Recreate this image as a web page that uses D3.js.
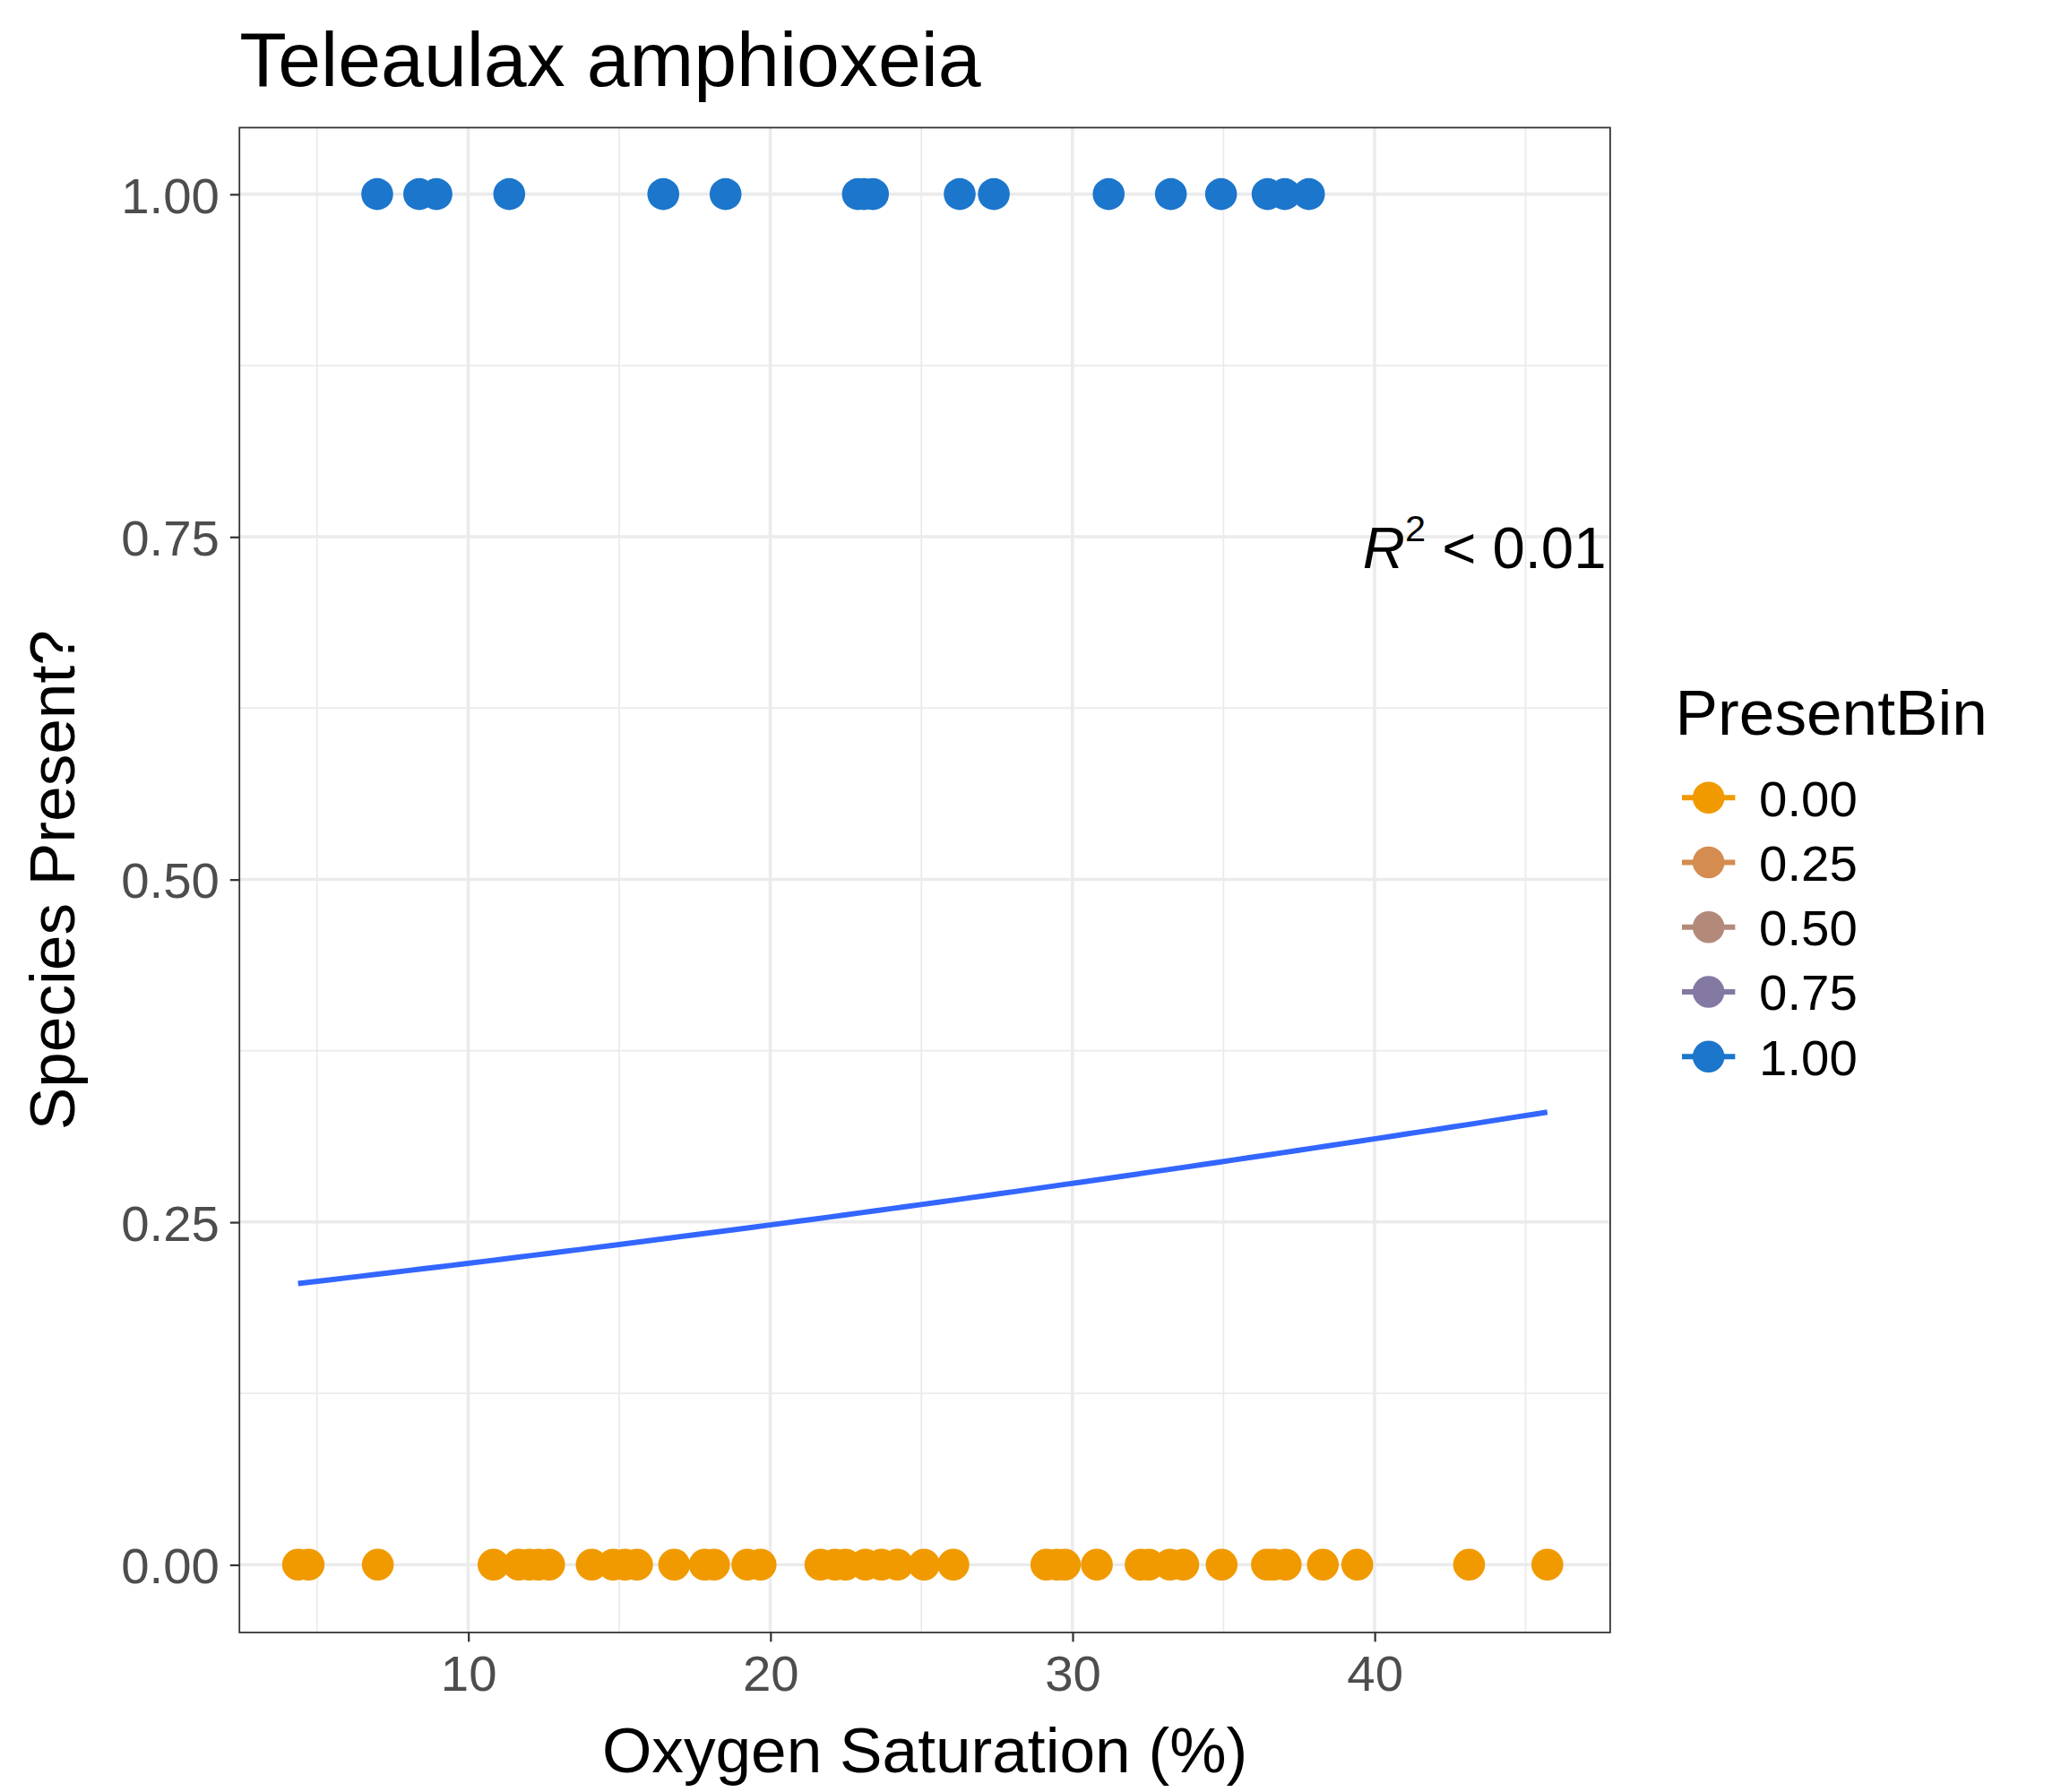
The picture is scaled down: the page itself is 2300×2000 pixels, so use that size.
<!DOCTYPE html>
<html><head><meta charset="utf-8">
<script src="https://cdn.jsdelivr.net/npm/d3@7"></script>
<style>body{margin:0;background:#fff} text{font-family:"Liberation Sans",Arial,sans-serif}</style>
</head><body>
<script>
const absentX = [4.37,4.72,7.01,10.84,11.67,12.02,12.33,12.68,14.09,14.8,15.19,15.59,16.82,17.83,18.14,19.24,19.68,21.66,22.14,22.49,23.15,23.68,24.21,25.09,26.06,29.14,29.49,29.75,30.81,32.26,32.53,33.23,33.67,34.94,36.44,36.66,37.06,38.29,39.43,43.13,45.72]
const presentX = [6.99,8.38,8.95,11.36,16.46,18.52,22.9,23.1,23.4,26.27,27.4,31.2,33.26,34.92,36.46,37.03,37.83]
const xTicks = [10,20,30,40]
const yTicks = [0,0.25,0.5,0.75,1]
const legendLevels = ["0.00","0.25","0.50","0.75","1.00"]
const legendColors = ["#F09A00","#D48C50","#B38A7A","#8479A3","#1B76CC"]
// fitted logistic curve: intercept, slope
const fitCoef = [-1.423, 0.01565]

const W = 1550, H = 1348
const m = {left:180, right:1211, top:96, bottom:1228}
const svg = d3.select("body").append("svg")
  .attr("width", 2300).attr("height", 2000)
  .attr("viewBox", `0 0 ${W} ${H}`)

const x = d3.scaleLinear().domain([2.43, 47.8]).range([m.left, m.right])
const y = d3.scaleLinear().domain([-0.0495, 1.0485]).range([m.bottom, m.top])

// minor grid
const minorX = d3.range(5, 46, 10), minorY = [0.125,0.375,0.625,0.875]
svg.selectAll(".mx").data(minorX).enter().append("line")
  .attr("x1", d => x(d)).attr("x2", d => x(d)).attr("y1", m.top).attr("y2", m.bottom)
  .attr("stroke", "#EBEBEB").attr("stroke-width", 1.2)
svg.selectAll(".my").data(minorY).enter().append("line")
  .attr("x1", m.left).attr("x2", m.right).attr("y1", d => y(d)).attr("y2", d => y(d))
  .attr("stroke", "#EBEBEB").attr("stroke-width", 1.2)
svg.selectAll(".gx").data(xTicks).enter().append("line")
  .attr("x1", d => x(d)).attr("x2", d => x(d)).attr("y1", m.top).attr("y2", m.bottom)
  .attr("stroke", "#EBEBEB").attr("stroke-width", 2.4)
svg.selectAll(".gy").data(yTicks).enter().append("line")
  .attr("x1", m.left).attr("x2", m.right).attr("y1", d => y(d)).attr("y2", d => y(d))
  .attr("stroke", "#EBEBEB").attr("stroke-width", 2.4)

// points
svg.append("g").selectAll("circle").data(absentX).enter().append("circle")
  .attr("cx", d => x(d)).attr("cy", y(0)).attr("r", 12).attr("fill", legendColors[0])
svg.append("g").selectAll("circle").data(presentX).enter().append("circle")
  .attr("cx", d => x(d)).attr("cy", y(1)).attr("r", 12).attr("fill", legendColors[4])

// fitted line
const xs = d3.range(0, 81).map(i => d3.min(absentX) + i * (d3.max(absentX) - d3.min(absentX)) / 80)
svg.append("path").datum(xs)
  .attr("fill", "none").attr("stroke", "#3366FF").attr("stroke-width", 4)
  .attr("d", d3.line().x(d => x(d)).y(d => y(1 / (1 + Math.exp(-(fitCoef[0] + fitCoef[1] * d))))))

svg.append("rect").attr("x", m.left).attr("y", m.top)
  .attr("width", m.right - m.left).attr("height", m.bottom - m.top)
  .attr("fill", "none").attr("stroke", "#333").attr("stroke-width", 1.2)

// axes
const xa = svg.append("g").attr("transform", `translate(0,${m.bottom})`)
  .call(d3.axisBottom(x).tickValues(xTicks).tickSize(7).tickPadding(10))
const ya = svg.append("g").attr("transform", `translate(${m.left},0)`)
  .call(d3.axisLeft(y).tickValues(yTicks).tickFormat(d3.format(".2f")).tickSize(7).tickPadding(8))
for (const a of [xa, ya]) {
  a.select(".domain").remove()
  a.selectAll("line").attr("stroke", "#333").attr("stroke-width", 1.5)
  a.selectAll("text").attr("font-size", 38).attr("fill", "#4D4D4D")
    .attr("font-family", "Liberation Sans, Arial, sans-serif")
}
xa.selectAll("text").attr("dy", "0.71em")
ya.selectAll("text").attr("dy", "0.36em")

svg.append("text").attr("x", m.left).attr("y", 65).attr("font-size", 58).text("Teleaulax amphioxeia")
svg.append("text").attr("x", (m.left + m.right) / 2).attr("y", 1333).attr("text-anchor", "middle")
  .attr("font-size", 48).text("Oxygen Saturation (%)")
svg.append("text").attr("transform", `translate(56,${(m.top + m.bottom) / 2}) rotate(-90)`)
  .attr("text-anchor", "middle").attr("font-size", 48).text("Species Present?")

const r2 = svg.append("text").attr("x", m.right - 3).attr("y", 427).attr("text-anchor", "end").attr("font-size", 44)
r2.append("tspan").attr("font-style", "italic").text("R")
r2.append("tspan").attr("font-size", 28).attr("dy", -20).text("2")
r2.append("tspan").attr("dy", 20).text(" < 0.01")

// legend
const lg = svg.append("g").attr("transform", "translate(1260,0)")
lg.append("text").attr("x", 0).attr("y", 553).attr("font-size", 48).text("PresentBin")
const items = lg.selectAll(".it").data(legendLevels).enter().append("g")
  .attr("transform", (d, i) => `translate(0,${600 + i * 48.7})`)
items.append("line").attr("x1", 5).attr("x2", 45).attr("stroke", (d, i) => legendColors[i]).attr("stroke-width", 4)
items.append("circle").attr("cx", 25).attr("r", 12).attr("fill", (d, i) => legendColors[i])
items.append("text").attr("x", 63).attr("dy", "0.36em").attr("font-size", 38).text(d => d)
</script>
</body></html>
